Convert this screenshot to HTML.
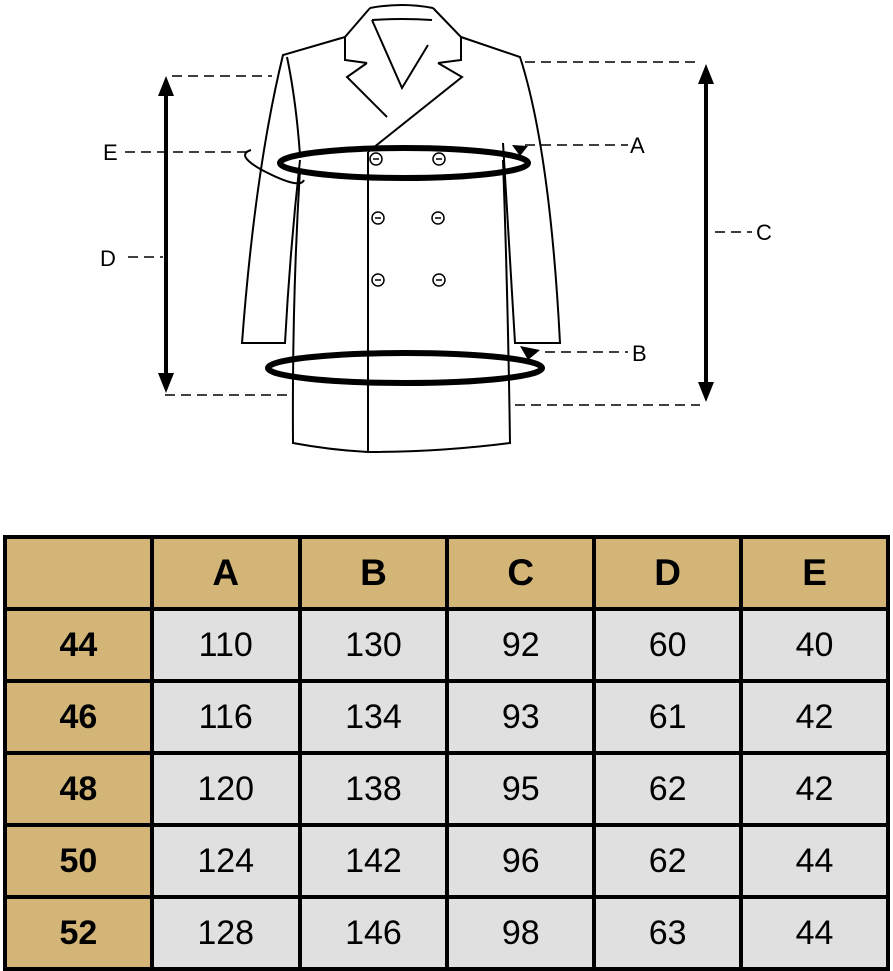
<!DOCTYPE html>
<html><head><style>
body{margin:0;width:893px;height:971px;background:#fff;overflow:hidden;position:relative;font-family:"Liberation Sans",sans-serif}
svg{position:absolute;left:0;top:0}
table{position:absolute;left:3px;top:535px;border-collapse:collapse;width:887px}
td{border:4px solid #000;width:148px;height:68px;text-align:center;font-size:34px;background:#e0e0e0;padding:0}
tr:first-child td{background:#d3b577;font-weight:bold;font-size:37px}
td:first-child{background:#d3b577;font-weight:bold}
</style></head><body>
<svg width="893" height="520" viewBox="0 0 893 520">
<g fill="none" stroke="#000" stroke-width="2">
<path d="M370,8 Q402,2 433,8 M370,8 L345,37 L345,60 L367,63 M433,8 L461,37 L461,60 L438,63"/>
<path d="M372,20 Q402,18 432,20"/>
<path d="M367,63 L347,77 L387,117 M372,20 L402,88 L428,45 M438,63 L462,77 L368,152"/>
<path d="M345,37 L283,55 Q255,170 242,343 L285,343 Q290,250 300,160"/>
<path d="M461,37 L520,57 Q550,150 560,343 L515,343 L503,143"/>
<path d="M287,57 Q296,100 300,155"/>
<path d="M300,170 Q292,300 293,443 Q330,450 368,452 Q440,452 510,443 Q508,300 503,160"/>
<path d="M368,152 L368,452"/>
</g>
<g fill="none" stroke="#000" stroke-width="1.5">
<circle cx="376" cy="159" r="6"/><circle cx="439" cy="159" r="6"/>
<circle cx="378" cy="218" r="6"/><circle cx="438" cy="218" r="6"/>
<circle cx="378" cy="280" r="6"/><circle cx="439" cy="280" r="6"/>
<path d="M373,159h6M436,159h6M375,218h6M435,218h6M375,280h6M436,280h6"/>
<path d="M251,150 Q235,155 262,170 Q300,190 304,180" stroke-width="2"/>
</g>
<ellipse cx="404" cy="163" rx="124" ry="15" fill="none" stroke="#000" stroke-width="6"/>
<ellipse cx="405" cy="368" rx="137" ry="15" fill="none" stroke="#000" stroke-width="6"/>
<path d="M512,145 L528,146 L520,156Z M520,346 L540,350 L528,360Z" fill="#000"/>
<g stroke="#000" stroke-width="1.5" stroke-dasharray="10,6" fill="none">
<path d="M172,76H272 M165,395H292 M125,152H248 M128,257H163 M525,62H700 M515,405H700 M715,232H752 M525,145H628 M545,352H628"/>
</g>
<g stroke="#000" stroke-width="4"><path d="M166,88V380 M706,78V390"/></g>
<g fill="#000">
<path d="M166,76 L158,96 L174,96Z M166,393 L158,373 L174,373Z"/>
<path d="M706,64 L698,84 L714,84Z M706,402 L698,382 L714,382Z"/>
</g>
<g font-family="Liberation Sans,sans-serif" font-size="22" fill="#000">
<text x="103" y="160">E</text><text x="100" y="266">D</text>
<text x="630" y="153">A</text><text x="632" y="361">B</text><text x="756" y="240">C</text>
</g>
</svg>
<table>
<tr><td></td><td>A</td><td>B</td><td>C</td><td>D</td><td>E</td></tr>
<tr><td>44</td><td>110</td><td>130</td><td>92</td><td>60</td><td>40</td></tr>
<tr><td>46</td><td>116</td><td>134</td><td>93</td><td>61</td><td>42</td></tr>
<tr><td>48</td><td>120</td><td>138</td><td>95</td><td>62</td><td>42</td></tr>
<tr><td>50</td><td>124</td><td>142</td><td>96</td><td>62</td><td>44</td></tr>
<tr><td>52</td><td>128</td><td>146</td><td>98</td><td>63</td><td>44</td></tr>
</table>
</body></html>
